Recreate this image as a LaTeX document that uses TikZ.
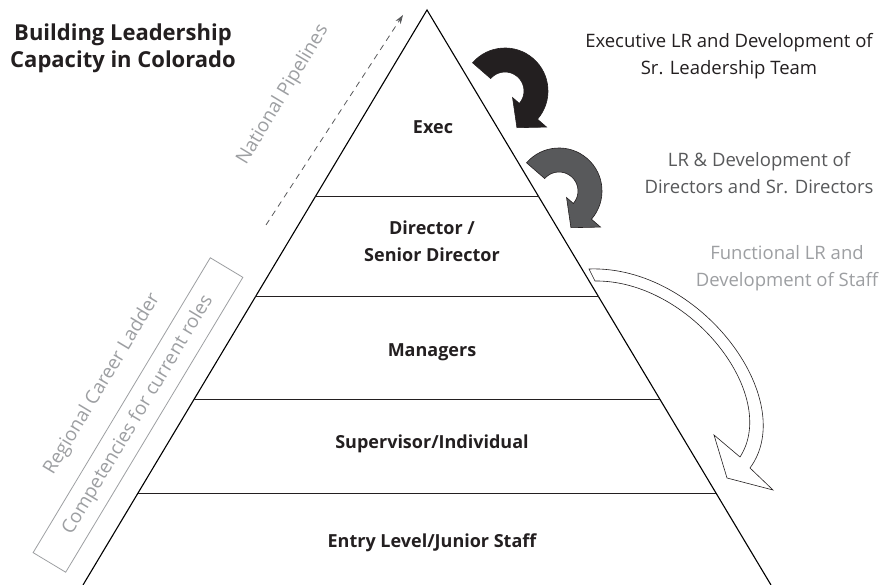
\documentclass[tikz,border=0pt]{standalone}
\usepackage{fontspec}
\setmainfont{Open Sans}
\usetikzlibrary{positioning}
\usetikzlibrary{arrows.meta}
\usetikzlibrary{calc}
\definecolor{inkblack}{HTML}{231F20}
\definecolor{darkgrey}{HTML}{58595B}
\definecolor{lightgrey}{HTML}{9D9FA2}

\begin{document}
\begin{tikzpicture}[
 x=1pt, y=1pt,
 tier/.style={font=\fontsize{18}{27}\selectfont\bfseries, text=inkblack, align=center},
 level/.style={draw=inkblack, line width=0.9pt},
 side/.style={draw=black, line width=1.1pt},
 note/.style={font=\fontsize{18.5}{27.5}\selectfont, align=center},
 slant/.style={font=\fontsize{19}{22}\selectfont, text=lightgrey, rotate=59},
 turn/.style={draw=inkblack, line width=0.6pt},
 pipe/.style={dash pattern=on 6pt off 5pt, draw=darkgrey, line width=0.8pt, -{Stealth[length=9pt, width=6pt]}}
]
\fill[white] (0,0) rectangle (887,585);
\useasboundingbox (0,0) rectangle (887,585);

% Pyramid outline
\coordinate (top) at (427,575);
\coordinate (bl) at (83,0);
\coordinate (br) at (771,0);
\draw[side] (bl) -- (top) -- (br);

% Level dividers
\foreach \t in {0.325, 0.499, 0.678, 0.840} {
 \draw[level] ($(top)!\t!(bl)$) -- ($(top)!\t!(br)$);
}

% Level labels
\node[tier] (exec) at (433,458) {Exec};
\node[tier] (dir) at (432,344) {Director /\\Senior Director};
\node[tier] (mgr) at (432,233) {Managers};
\node[tier] (sup) at (432,141) {Supervisor/Individual};
\node[tier] (entry) at (432,42) {Entry Level/Junior Staff};

% Title
\node[font=\fontsize{22}{27}\selectfont\bfseries, align=center, text=inkblack] (title) at (123,537)
 {Building Leadership\\Capacity in Colorado};

% Development notes
\node[note, text=inkblack] (execnote) at (729,529) {Executive LR and Development of\\Sr. Leadership Team};
\node[note, text=darkgrey] (dirnote) at (759,412) {LR \& Development of\\Directors and Sr. Directors};
\node[note, text=lightgrey] (staffnote) at (787,317) {Functional LR and\\Development of Staff};

% National pipelines
\coordinate (pipestart) at (266,360);
\coordinate (pipeend) at (403,570);
\draw[pipe] (pipestart) -- (pipeend);
\node[slant] (pipes) at (283,490) {National Pipelines};

% Regional career ladder
\node[slant, draw=lightgrey, line width=0.8pt, minimum width=344pt, minimum height=38pt] (ladder) at (138,170)
 {Competencies for current roles};
\node[slant, anchor=south, xshift=8pt, yshift=14pt] (regional) at (ladder.north) {Regional Career Ladder};

% Turning arrows (exec and directors)
\foreach \cx/\cy/\shade in {505/494/inkblack, 559/394/darkgrey} {
 \begin{scope}[shift={(\cx,\cy)}]
 \filldraw[turn, fill=\shade] (139:43) arc[start angle=139, end angle=-41, radius=43]
 -- (-41:55) -- (-72:38.6) -- (-41:10) -- (-41:19)
 arc[start angle=-41, end angle=139, radius=19] -- cycle;
 \end{scope}
}

% Staff arrow
\filldraw[turn, fill=white] (589,316) .. controls (700,320) and (800,185) .. (750,117)
 -- (773,95) -- (727,107) -- (714,150) -- (740,128)
 .. controls (780,190) and (690,305) .. (595,304) -- cycle;
\end{tikzpicture}
\end{document}
